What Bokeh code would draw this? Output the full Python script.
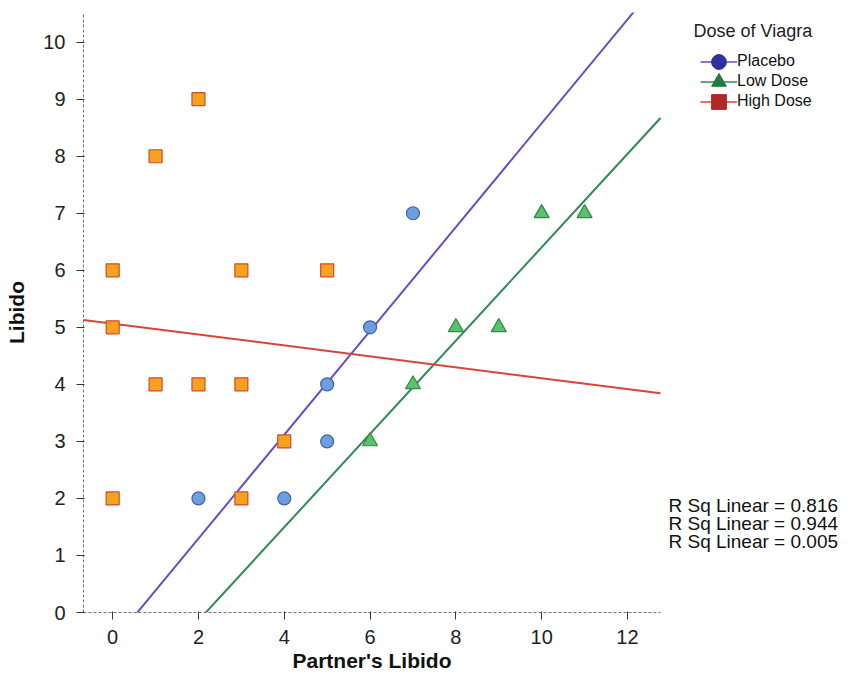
from bokeh.plotting import figure
from bokeh.models import Range1d, FixedTicker, Legend, LegendItem, Label, Title
from bokeh.embed import file_html
from bokeh.resources import INLINE

# ---- data ----
placebo_x = [2, 4, 5, 5, 6, 7]
placebo_y = [2, 2, 3, 4, 5, 7]
low_x = [6, 7, 8, 9, 10, 11]
low_y = [3, 4, 5, 5, 7, 7]
high_x = [0, 0, 0, 1, 1, 2, 2, 3, 3, 3, 4, 5]
high_y = [2, 5, 6, 4, 8, 4, 9, 2, 4, 6, 3, 6]

groups = ["Placebo", "Low Dose", "High Dose"]
fit_intercept = [-0.523, -1.776, 5.065]
fit_slope = [0.910, 0.818, -0.0957]
r_squared = [0.816, 0.944, 0.005]

x_ticks = [0, 2, 4, 6, 8, 10, 12]
y_ticks = [0, 1, 2, 3, 4, 5, 6, 7, 8, 9, 10]

# axis extents (data units) of the drawn chart area
X0, X1 = -0.68, 12.77
Y0, Y1 = 0.0, 10.52

W, H = 860, 674
LEFT, TOP, BOTTOM = 83, 12, 62
AXIS_RIGHT_PX = 660
# frame extends to the right edge so legend / texts can sit there
X_FRAME_END = X0 + (W - LEFT) / (AXIS_RIGHT_PX - LEFT) * (X1 - X0)

FONT = "Liberation Sans"
NAN = float("nan")

p = figure(width=W, height=H, output_backend="svg", toolbar_location=None,
           x_range=Range1d(X0, X_FRAME_END), y_range=Range1d(Y0, Y1),
           min_border_left=LEFT, min_border_right=0, min_border_top=TOP,
           min_border_bottom=BOTTOM)
p.outline_line_color = None
p.grid.visible = False
p.background_fill_color = "white"
p.border_fill_color = "white"

for ax in (p.xaxis[0], p.yaxis[0]):
    ax.axis_line_color = "#8a6a5e"
    ax.axis_line_dash = "3 2"
    ax.axis_line_width = 1
    ax.major_tick_line_color = "#333333"
    ax.major_tick_out = 7
    ax.major_tick_in = 1
    ax.minor_tick_line_color = None
    ax.major_label_text_font = FONT
    ax.major_label_text_font_size = "20px"
    ax.major_label_text_color = "#222222"
    ax.axis_label_text_font = FONT
    ax.axis_label_text_font_size = "21px"
    ax.axis_label_text_font_style = "bold"
    ax.axis_label_text_color = "#111111"

p.xaxis.ticker = FixedTicker(ticks=x_ticks)
p.yaxis.ticker = FixedTicker(ticks=y_ticks)
p.xaxis.bounds = (X0, X1)
p.yaxis.axis_label = "Libido"
p.xaxis.major_label_standoff = 10
p.yaxis.major_label_standoff = 11
p.yaxis.axis_label_standoff = 12

# x-axis title, centred under the axis (not the wider frame)
p.add_layout(Title(text="Partner's Libido", align="left", offset=209,
                   text_font=FONT, text_font_size="21px", text_font_style="bold",
                   text_color="#111111", standoff=0), "below")

line_colors = ["#6a4cc4", "#2f8a55", "#d9443a"]
# regression lines
for a, b, c in zip(fit_intercept, fit_slope, line_colors):
    xs = [X0, X1]
    ys = [a + b * x for x in xs]
    p.line(xs, ys, line_color=c, line_width=2)

# scatter points
p.scatter(high_x, high_y, marker="square", size=13, fill_color="#f7a21e",
          line_color="#d24a2a", line_width=1.2)
p.scatter(placebo_x, placebo_y, marker="circle", size=13, fill_color="#6c9fdc",
          line_color="#4060b0", line_width=1.2)
p.scatter(low_x, low_y, marker="triangle", size=15, fill_color="#5cc06e",
          line_color="#2f8a45", line_width=1.2)

# legend title
p.add_layout(Label(x=610, y=582, x_units="screen", y_units="screen",
                   text="Dose of Viagra", text_font=FONT, text_font_size="18px",
                   text_color="#222222", text_baseline="middle"))

# legend glyph renderers (dark markers with line); NaN data -> nothing drawn in plot
leg_markers = ["circle", "triangle", "square"]
leg_fill = ["#30309a", "#237a3a", "#b02828"]
leg_line = ["#6a4cc4", "#2f8a55", "#d9443a"]
for i, (g, m, fc, lc) in enumerate(zip(groups, leg_markers, leg_fill, leg_line)):
    lr = p.line(x=[NAN, NAN], y=[NAN, NAN], line_color=lc, line_width=1.5)
    sr = p.scatter(x=[NAN], y=[NAN], marker=m, size=15, fill_color=fc, line_color=fc)
    centre = 61 + 20 * i  # px below figure top
    leg = Legend(items=[LegendItem(label=g, renderers=[lr, sr])],
                 location=(617, (H - BOTTOM) - (centre + 18.5)),
                 label_text_font=FONT, label_text_font_size="16px",
                 label_text_color="#111111",
                 glyph_width=37, glyph_height=37, label_standoff=0,
                 padding=0, margin=0,
                 border_line_color=None, background_fill_alpha=0)
    p.add_layout(leg, "center")

for i, r in enumerate(r_squared):
    p.add_layout(Label(x=585, y=107 - 18 * i, x_units="screen", y_units="screen",
                       text="R Sq Linear = %.3f" % r, text_font=FONT,
                       text_font_size="19px", text_color="#111111",
                       text_baseline="middle"))

open("out.html", "w").write(file_html(p, INLINE))
